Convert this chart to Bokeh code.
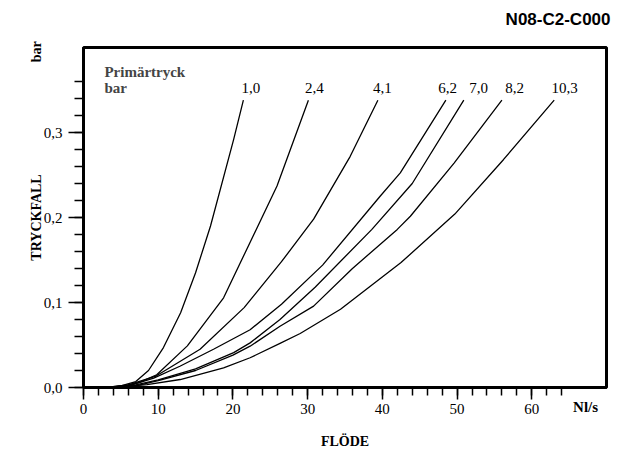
from bokeh.plotting import figure
from bokeh.models import FixedTicker, Label, Range1d, Title, LinearAxis
from bokeh.embed import file_html
from bokeh.resources import INLINE

# ---- data ----
pressures = ["1,0", "2,4", "4,1", "6,2", "7,0", "8,2", "10,3"]

flow_10 = [3, 5, 7, 8.7, 10.7, 13, 15, 17, 20.1, 21.4]
drop_10 = [0, 0.002, 0.007, 0.020, 0.047, 0.088, 0.135, 0.19, 0.292, 0.338]

flow_24 = [3, 5.5, 7.5, 9.8, 13.9, 18.75, 21.6, 25.9, 30.1]
drop_24 = [0, 0.002, 0.006, 0.015, 0.049, 0.1055, 0.158, 0.237, 0.338]

flow_41 = [3, 6, 9.6, 15.6, 21.5, 26.5, 30.8, 35.7, 39.4]
drop_41 = [0, 0.003, 0.013, 0.045, 0.094, 0.148, 0.198, 0.272, 0.338]

flow_62 = [3.5, 6.5, 9.4, 12.9, 17.4, 22.3, 26.5, 32.0, 39.7, 42.4, 48.5]
drop_62 = [0, 0.003, 0.011, 0.025, 0.045, 0.068, 0.098, 0.144, 0.225, 0.2525, 0.338]

flow_70 = [3.5, 7, 10, 15, 20.1, 22.3, 26.3, 31, 38.6, 44.0, 50.9]
drop_70 = [0, 0.003, 0.009, 0.022, 0.041, 0.0525, 0.080, 0.118, 0.186, 0.240, 0.338]

flow_82 = [3.5, 7, 10, 15, 20, 22.3, 26.3, 30.8, 36, 42.0, 43.75, 49.6, 56.0]
drop_82 = [0, 0.002, 0.008, 0.020, 0.038, 0.0486, 0.072, 0.0957, 0.14, 0.186, 0.2015, 0.264, 0.338]

flow_103 = [4, 8.5, 12.95, 18.75, 22.3, 26.3, 29.0, 34.4, 42.5, 49.7, 56.2, 63.0]
drop_103 = [0, 0.0035, 0.0094, 0.0231, 0.035, 0.052, 0.0635, 0.092, 0.147, 0.204, 0.268, 0.338]

x_major = [0, 10, 20, 30, 40, 50, 60]
x_minor = list(range(0, 66, 2))
y_major = [0, 0.1, 0.2, 0.3]
y_major_labels = ["0,0", "0,1", "0,2", "0,3"]
y_minor = [round(0.02 * i, 2) for i in range(19)]

title_text = "N08-C2-C000"
x_title = "FLÖDE"
y_title = "TRYCKFALL"
x_unit = "Nl/s"
y_unit = "bar"
legend_title = ["Primärtryck", "bar"]

# label positions (layout)
label_x = [22.4, 30.9, 40.0, 48.75, 52.9, 57.7, 64.4]
x_unit_pos = 67.2
y_unit_pos = 0.395

SERIF = "Liberation Serif"
SANS = "Liberation Sans"

p = figure(width=612, height=452,
           x_range=Range1d(0, 70), y_range=Range1d(0, 0.40),
           output_backend="svg", toolbar_location=None,
           min_border_left=83, min_border_right=6,
           min_border_top=47, min_border_bottom=65)

p.xgrid.visible = False
p.ygrid.visible = False
p.outline_line_color = "black"
p.outline_line_width = 3
p.background_fill_color = "white"
p.border_fill_color = "white"

# title (with a blank spacer between it and the frame)
p.add_layout(Title(text=" ", text_font_size="14px", standoff=0), "above")
p.add_layout(Title(text=title_text, align="right", text_font=SANS,
                   text_font_size="17px", text_font_style="bold",
                   text_color="black", standoff=2, offset=-4), "above")

# main x axis
xa = p.xaxis[0]
xa.ticker = FixedTicker(ticks=x_major, minor_ticks=x_minor)
xa.axis_line_width = 3
xa.axis_line_color = "black"
xa.major_tick_in = 0
xa.major_tick_out = 12
xa.minor_tick_in = 0
xa.minor_tick_out = 8
xa.major_tick_line_width = 1.5
xa.minor_tick_line_width = 1.5
xa.major_tick_line_color = "black"
xa.minor_tick_line_color = "black"
xa.major_label_text_font = SERIF
xa.major_label_text_font_size = "15px"
xa.major_label_text_color = "black"
xa.major_label_standoff = 4

# main y axis
ya = p.yaxis[0]
ya.ticker = FixedTicker(ticks=y_major, minor_ticks=y_minor)
ya.major_label_overrides = {v: s for v, s in zip(y_major, y_major_labels)}
ya.axis_line_width = 3
ya.axis_line_color = "black"
ya.major_tick_in = 0
ya.major_tick_out = 15
ya.minor_tick_in = 0
ya.minor_tick_out = 9
ya.major_tick_line_width = 1.5
ya.minor_tick_line_width = 1.5
ya.major_tick_line_color = "black"
ya.minor_tick_line_color = "black"
ya.major_label_text_font = SERIF
ya.major_label_text_font_size = "15px"
ya.major_label_text_color = "black"
ya.major_label_standoff = 6

# outer x axis: unit "Nl/s" and title "FLÖDE"
xa2 = LinearAxis(ticker=FixedTicker(ticks=[x_unit_pos], minor_ticks=[]),
                 major_label_overrides={x_unit_pos: x_unit},
                 axis_line_color=None, major_tick_line_color=None,
                 minor_tick_line_color=None,
                 major_tick_in=0, major_tick_out=0,
                 minor_tick_in=0, minor_tick_out=0,
                 major_label_standoff=-18,
                 major_label_text_font=SERIF,
                 major_label_text_font_size="15px",
                 major_label_text_font_style="bold",
                 major_label_text_color="black",
                 axis_label=x_title, axis_label_text_font=SERIF,
                 axis_label_text_font_size="14px",
                 axis_label_text_font_style="bold",
                 axis_label_text_color="black",
                 axis_label_standoff=16)
p.add_layout(xa2, "below")

# outer y axis: unit "bar" and title "TRYCKFALL"
ya2 = LinearAxis(ticker=FixedTicker(ticks=[y_unit_pos], minor_ticks=[]),
                 major_label_overrides={y_unit_pos: y_unit},
                 major_label_orientation="vertical",
                 axis_line_color=None, major_tick_line_color=None,
                 minor_tick_line_color=None,
                 major_tick_in=0, major_tick_out=0,
                 minor_tick_in=0, minor_tick_out=0,
                 major_label_standoff=-3,
                 major_label_text_font=SERIF,
                 major_label_text_font_size="14px",
                 major_label_text_font_style="bold",
                 major_label_text_color="black",
                 axis_label=y_title, axis_label_text_font=SERIF,
                 axis_label_text_font_size="14px",
                 axis_label_text_font_style="bold",
                 axis_label_text_color="black",
                 axis_label_standoff=-18)
p.add_layout(ya2, "left")

flows = [flow_10, flow_24, flow_41, flow_62, flow_70, flow_82, flow_103]
drops = [drop_10, drop_24, drop_41, drop_62, drop_70, drop_82, drop_103]
for fx, dy in zip(flows, drops):
    p.line(fx, dy, line_color="black", line_width=1.3)

for name, lx in zip(pressures, label_x):
    p.add_layout(Label(x=lx, y=0.352, text=name, text_font=SERIF,
                       text_font_size="15px", text_color="black",
                       text_align="center", text_baseline="middle"))

p.add_layout(Label(x=2.8, y=0.371, text=legend_title[0], text_font=SERIF,
                   text_font_size="15px", text_font_style="bold",
                   text_align="left", text_baseline="middle"))
p.add_layout(Label(x=2.8, y=0.352, text=legend_title[1], text_font=SERIF,
                   text_font_size="15px", text_font_style="bold",
                   text_align="left", text_baseline="middle"))

open("out.html", "w").write(file_html(p, INLINE))
